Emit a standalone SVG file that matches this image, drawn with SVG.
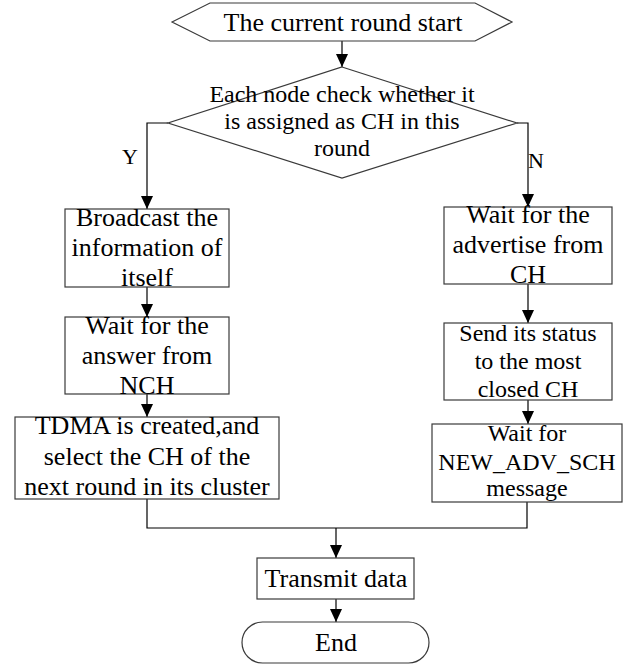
<svg xmlns="http://www.w3.org/2000/svg" width="626" height="664" viewBox="0 0 626 664">
  <defs>
    <marker id="arrow" viewBox="0 0 13 12" refX="13" refY="6" markerWidth="13" markerHeight="12" markerUnits="userSpaceOnUse" orient="auto">
      <path d="M0,0 L13,6 L0,12 Z" fill="#000"/>
    </marker>
    <style>
      .shape { fill: #fff; stroke: #3a3a3a; stroke-width: 1.2; }
      .link { fill: none; stroke: #000; stroke-width: 1.2; }
      .t { font-size: 26px; fill: #000; text-anchor: middle; }
      .s { font-size: 24px; }
      .lbl { font-size: 22px; fill: #000; text-anchor: middle; }
    </style>
  </defs>

  <g font-family="Liberation Serif">
  <g id="connectors">
    <path class="link" d="M342,41 V67" marker-end="url(#arrow)"/>
    <path class="link" d="M168,123 H147 V209" marker-end="url(#arrow)"/>
    <path class="link" d="M517,123 H528 V207" marker-end="url(#arrow)"/>
    <path class="link" d="M147,287 V317" marker-end="url(#arrow)"/>
    <path class="link" d="M147,394 V417" marker-end="url(#arrow)"/>
    <path class="link" d="M528,284 V323" marker-end="url(#arrow)"/>
    <path class="link" d="M528,400 V424" marker-end="url(#arrow)"/>
    <path class="link" d="M147,499 V528 H527 V502"/>
    <path class="link" d="M336,528 V558" marker-end="url(#arrow)"/>
    <path class="link" d="M336,599 V622" marker-end="url(#arrow)"/>
    <text class="lbl" x="130" y="164">Y</text>
    <text class="lbl" x="536" y="168">N</text>
  </g>

  <g id="start">
    <polygon class="shape" points="172,22 210,3 475,3 512,22 475,41 210,41"/>
    <text class="t" x="343" y="31">The current round start</text>
  </g>

  <g id="check">
    <polygon class="shape" points="342,67 517,123 342,178 168,123"/>
    <text class="t s" x="342" y="102">Each node check whether it</text>
    <text class="t s" x="342" y="129">is assigned as CH in this</text>
    <text class="t s" x="342" y="156">round</text>
  </g>

  <g id="broadcast">
    <rect class="shape" x="65" y="209" width="164" height="78"/>
    <text class="t" x="147" y="226">Broadcast the</text>
    <text class="t" x="147" y="256">information of</text>
    <text class="t" x="147" y="286">itself</text>
  </g>

  <g id="wait-answer">
    <rect class="shape" x="65" y="317" width="164" height="77"/>
    <text class="t" x="147" y="334">Wait for the</text>
    <text class="t" x="147" y="364">answer from</text>
    <text class="t" x="147" y="394">NCH</text>
  </g>

  <g id="tdma">
    <rect class="shape" x="15" y="417" width="264" height="82"/>
    <text class="t" x="147" y="434">TDMA is created,and</text>
    <text class="t" x="147" y="465">select the CH of the</text>
    <text class="t" x="147" y="495">next round in its cluster</text>
  </g>

  <g id="wait-advertise">
    <rect class="shape" x="444" y="207" width="168" height="77"/>
    <text class="t" x="528" y="223">Wait for the</text>
    <text class="t" x="528" y="253">advertise from</text>
    <text class="t" x="528" y="283">CH</text>
  </g>

  <g id="send-status">
    <rect class="shape" x="444" y="323" width="168" height="77"/>
    <text class="t s" x="528" y="341">Send its status</text>
    <text class="t s" x="528" y="369">to the most</text>
    <text class="t s" x="528" y="397">closed CH</text>
  </g>

  <g id="wait-new-adv">
    <rect class="shape" x="432" y="424" width="190" height="78"/>
    <text class="t s" x="527" y="441">Wait for</text>
    <text class="t s" x="527" y="470">NEW_ADV_SCH</text>
    <text class="t s" x="527" y="496">message</text>
  </g>

  <g id="transmit">
    <rect class="shape" x="257" y="558" width="157" height="41"/>
    <text class="t" x="336" y="587">Transmit data</text>
  </g>

  <g id="end">
    <rect class="shape" x="242" y="622" width="187" height="41" rx="20.5" ry="20.5"/>
    <text class="t" x="336" y="651">End</text>
  </g>
  </g>
</svg>
